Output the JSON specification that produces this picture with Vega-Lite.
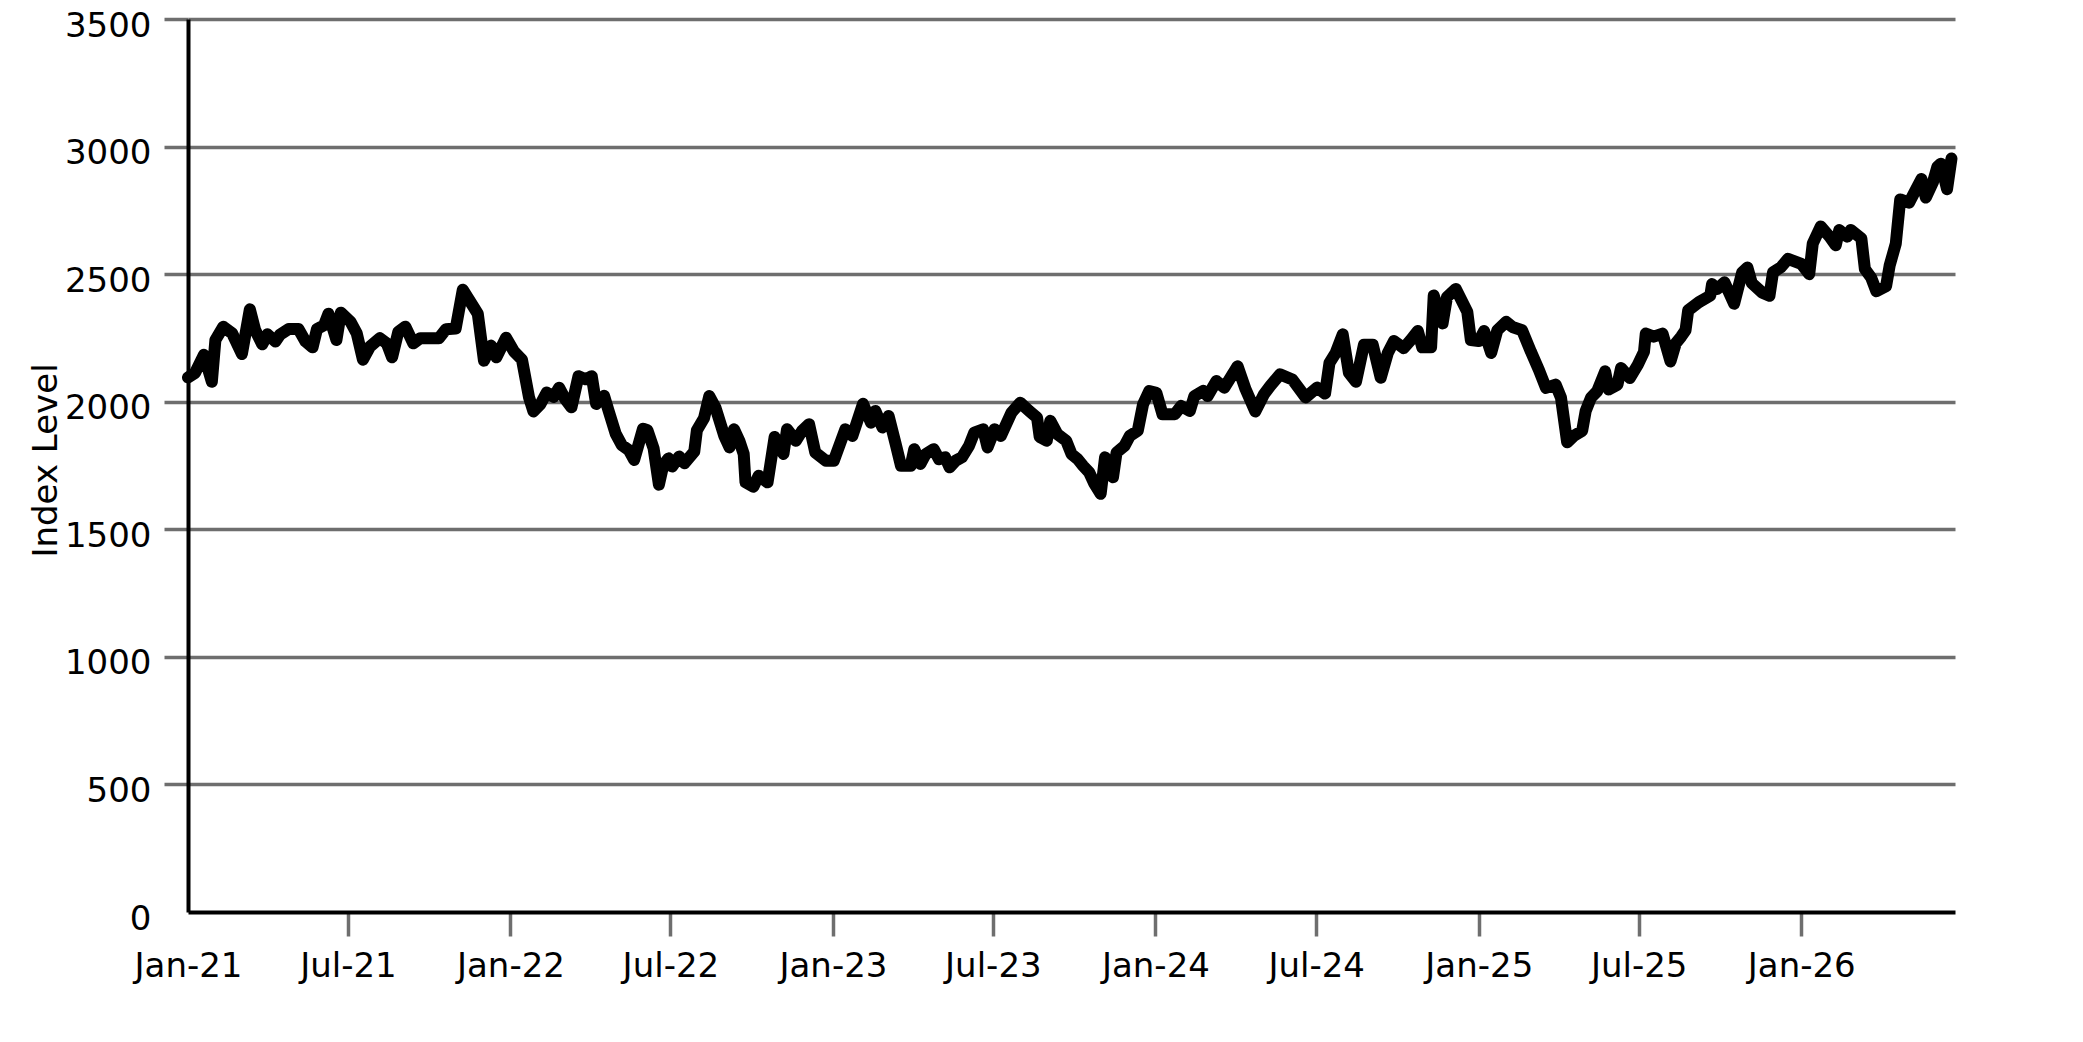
{
  "$schema": "https://vega.github.io/schema/vega-lite/v6.json",
  "width": 1767,
  "height": 893,
  "autosize": {"type": "none"},
  "padding": {"left": 188, "top": 19, "right": 128, "bottom": 130},
  "config": {"view": {"stroke": null}, "font": "DejaVu Sans"},
  "data": {
    "values": [
      {"date": "2021-01-01", "value": 2095}, {"date": "2021-01-09", "value": 2113}, {"date": "2021-01-19", "value": 2184},
      {"date": "2021-01-28", "value": 2078}, {"date": "2021-02-01", "value": 2242}, {"date": "2021-02-10", "value": 2294},
      {"date": "2021-02-20", "value": 2268}, {"date": "2021-03-03", "value": 2187}, {"date": "2021-03-12", "value": 2362},
      {"date": "2021-03-18", "value": 2281}, {"date": "2021-03-26", "value": 2225}, {"date": "2021-04-01", "value": 2264},
      {"date": "2021-04-10", "value": 2236}, {"date": "2021-04-15", "value": 2262}, {"date": "2021-04-25", "value": 2285},
      {"date": "2021-05-06", "value": 2285}, {"date": "2021-05-14", "value": 2236}, {"date": "2021-05-22", "value": 2213},
      {"date": "2021-05-27", "value": 2285}, {"date": "2021-06-04", "value": 2300}, {"date": "2021-06-09", "value": 2345},
      {"date": "2021-06-18", "value": 2242}, {"date": "2021-06-23", "value": 2349}, {"date": "2021-07-04", "value": 2313},
      {"date": "2021-07-11", "value": 2268}, {"date": "2021-07-18", "value": 2165}, {"date": "2021-07-26", "value": 2216},
      {"date": "2021-08-06", "value": 2249}, {"date": "2021-08-14", "value": 2229}, {"date": "2021-08-20", "value": 2174},
      {"date": "2021-08-27", "value": 2274}, {"date": "2021-09-04", "value": 2294}, {"date": "2021-09-13", "value": 2229},
      {"date": "2021-09-21", "value": 2249}, {"date": "2021-10-12", "value": 2249}, {"date": "2021-10-20", "value": 2284},
      {"date": "2021-10-31", "value": 2287}, {"date": "2021-11-08", "value": 2439}, {"date": "2021-11-19", "value": 2378},
      {"date": "2021-11-25", "value": 2345}, {"date": "2021-12-02", "value": 2161}, {"date": "2021-12-10", "value": 2220},
      {"date": "2021-12-16", "value": 2174}, {"date": "2021-12-27", "value": 2251}, {"date": "2022-01-05", "value": 2197},
      {"date": "2022-01-14", "value": 2165}, {"date": "2022-01-22", "value": 2017}, {"date": "2022-01-27", "value": 1962},
      {"date": "2022-02-04", "value": 1991}, {"date": "2022-02-11", "value": 2036}, {"date": "2022-02-19", "value": 2019},
      {"date": "2022-02-25", "value": 2055}, {"date": "2022-03-04", "value": 2010}, {"date": "2022-03-11", "value": 1978},
      {"date": "2022-03-19", "value": 2100}, {"date": "2022-03-27", "value": 2088}, {"date": "2022-04-03", "value": 2100},
      {"date": "2022-04-08", "value": 1991}, {"date": "2022-04-17", "value": 2023}, {"date": "2022-04-22", "value": 1965},
      {"date": "2022-04-30", "value": 1875}, {"date": "2022-05-07", "value": 1830}, {"date": "2022-05-15", "value": 1810},
      {"date": "2022-05-21", "value": 1772}, {"date": "2022-05-31", "value": 1894}, {"date": "2022-06-05", "value": 1888},
      {"date": "2022-06-12", "value": 1817}, {"date": "2022-06-18", "value": 1675}, {"date": "2022-06-23", "value": 1752},
      {"date": "2022-06-29", "value": 1778}, {"date": "2022-07-03", "value": 1746}, {"date": "2022-07-11", "value": 1785},
      {"date": "2022-07-17", "value": 1759}, {"date": "2022-07-28", "value": 1804}, {"date": "2022-07-31", "value": 1888},
      {"date": "2022-08-08", "value": 1935}, {"date": "2022-08-14", "value": 2022}, {"date": "2022-08-21", "value": 1977},
      {"date": "2022-08-31", "value": 1866}, {"date": "2022-09-06", "value": 1821}, {"date": "2022-09-11", "value": 1892},
      {"date": "2022-09-17", "value": 1847}, {"date": "2022-09-22", "value": 1795}, {"date": "2022-09-24", "value": 1684},
      {"date": "2022-10-03", "value": 1667}, {"date": "2022-10-09", "value": 1710}, {"date": "2022-10-19", "value": 1684},
      {"date": "2022-10-27", "value": 1862}, {"date": "2022-11-06", "value": 1795}, {"date": "2022-11-10", "value": 1892},
      {"date": "2022-11-20", "value": 1847}, {"date": "2022-11-27", "value": 1886}, {"date": "2022-12-05", "value": 1912},
      {"date": "2022-12-12", "value": 1801}, {"date": "2022-12-24", "value": 1769}, {"date": "2023-01-02", "value": 1769},
      {"date": "2023-01-15", "value": 1892}, {"date": "2023-01-23", "value": 1866}, {"date": "2023-01-28", "value": 1918},
      {"date": "2023-02-04", "value": 1992}, {"date": "2023-02-13", "value": 1918}, {"date": "2023-02-18", "value": 1964},
      {"date": "2023-02-26", "value": 1899}, {"date": "2023-03-05", "value": 1944}, {"date": "2023-03-13", "value": 1834},
      {"date": "2023-03-19", "value": 1749}, {"date": "2023-03-30", "value": 1749}, {"date": "2023-04-03", "value": 1814},
      {"date": "2023-04-10", "value": 1756}, {"date": "2023-04-16", "value": 1795}, {"date": "2023-04-25", "value": 1814},
      {"date": "2023-05-01", "value": 1775}, {"date": "2023-05-08", "value": 1782}, {"date": "2023-05-13", "value": 1743},
      {"date": "2023-05-20", "value": 1769}, {"date": "2023-05-27", "value": 1782}, {"date": "2023-06-04", "value": 1827},
      {"date": "2023-06-10", "value": 1879}, {"date": "2023-06-20", "value": 1892}, {"date": "2023-06-25", "value": 1821},
      {"date": "2023-07-03", "value": 1892}, {"date": "2023-07-10", "value": 1866}, {"date": "2023-07-22", "value": 1957},
      {"date": "2023-08-01", "value": 1996}, {"date": "2023-08-11", "value": 1964}, {"date": "2023-08-20", "value": 1938},
      {"date": "2023-08-23", "value": 1862}, {"date": "2023-08-31", "value": 1847}, {"date": "2023-09-04", "value": 1925},
      {"date": "2023-09-12", "value": 1873}, {"date": "2023-09-22", "value": 1847}, {"date": "2023-09-28", "value": 1795},
      {"date": "2023-10-05", "value": 1775}, {"date": "2023-10-11", "value": 1749}, {"date": "2023-10-18", "value": 1723},
      {"date": "2023-10-24", "value": 1678}, {"date": "2023-10-31", "value": 1639}, {"date": "2023-11-05", "value": 1782},
      {"date": "2023-11-14", "value": 1704}, {"date": "2023-11-18", "value": 1801}, {"date": "2023-11-27", "value": 1827},
      {"date": "2023-12-03", "value": 1866}, {"date": "2023-12-12", "value": 1886}, {"date": "2023-12-18", "value": 1990},
      {"date": "2023-12-25", "value": 2042}, {"date": "2024-01-02", "value": 2035}, {"date": "2024-01-09", "value": 1951},
      {"date": "2024-01-23", "value": 1951}, {"date": "2024-01-30", "value": 1983}, {"date": "2024-02-09", "value": 1964},
      {"date": "2024-02-14", "value": 2022}, {"date": "2024-02-24", "value": 2042}, {"date": "2024-02-29", "value": 2022},
      {"date": "2024-03-10", "value": 2081}, {"date": "2024-03-19", "value": 2055}, {"date": "2024-04-03", "value": 2139},
      {"date": "2024-04-12", "value": 2049}, {"date": "2024-04-23", "value": 1962}, {"date": "2024-05-03", "value": 2030},
      {"date": "2024-05-10", "value": 2062}, {"date": "2024-05-21", "value": 2107}, {"date": "2024-06-04", "value": 2087},
      {"date": "2024-06-19", "value": 2017}, {"date": "2024-07-02", "value": 2055}, {"date": "2024-07-11", "value": 2032},
      {"date": "2024-07-16", "value": 2152}, {"date": "2024-07-23", "value": 2191}, {"date": "2024-07-31", "value": 2264},
      {"date": "2024-08-07", "value": 2113}, {"date": "2024-08-15", "value": 2078}, {"date": "2024-08-24", "value": 2223},
      {"date": "2024-09-03", "value": 2223}, {"date": "2024-09-12", "value": 2094}, {"date": "2024-09-20", "value": 2191},
      {"date": "2024-09-27", "value": 2238}, {"date": "2024-10-08", "value": 2210}, {"date": "2024-10-16", "value": 2242},
      {"date": "2024-10-24", "value": 2277}, {"date": "2024-10-29", "value": 2213}, {"date": "2024-11-08", "value": 2213},
      {"date": "2024-11-11", "value": 2416}, {"date": "2024-11-21", "value": 2307}, {"date": "2024-11-26", "value": 2410},
      {"date": "2024-12-06", "value": 2442}, {"date": "2024-12-19", "value": 2352}, {"date": "2024-12-23", "value": 2242},
      {"date": "2025-01-01", "value": 2238}, {"date": "2025-01-07", "value": 2277}, {"date": "2025-01-15", "value": 2191},
      {"date": "2025-01-22", "value": 2280}, {"date": "2025-02-01", "value": 2313}, {"date": "2025-02-08", "value": 2293},
      {"date": "2025-02-19", "value": 2280}, {"date": "2025-03-01", "value": 2196}, {"date": "2025-03-10", "value": 2125},
      {"date": "2025-03-18", "value": 2054}, {"date": "2025-03-29", "value": 2067}, {"date": "2025-04-04", "value": 2016},
      {"date": "2025-04-11", "value": 1841}, {"date": "2025-04-19", "value": 1867}, {"date": "2025-04-28", "value": 1886},
      {"date": "2025-05-02", "value": 1964}, {"date": "2025-05-08", "value": 2016}, {"date": "2025-05-15", "value": 2041},
      {"date": "2025-05-24", "value": 2119}, {"date": "2025-05-28", "value": 2048}, {"date": "2025-06-07", "value": 2067},
      {"date": "2025-06-11", "value": 2132}, {"date": "2025-06-21", "value": 2093}, {"date": "2025-06-30", "value": 2145},
      {"date": "2025-07-07", "value": 2196}, {"date": "2025-07-09", "value": 2267}, {"date": "2025-07-18", "value": 2255},
      {"date": "2025-07-28", "value": 2267}, {"date": "2025-08-06", "value": 2158}, {"date": "2025-08-12", "value": 2229},
      {"date": "2025-08-18", "value": 2255}, {"date": "2025-08-23", "value": 2280}, {"date": "2025-08-26", "value": 2358},
      {"date": "2025-09-07", "value": 2390}, {"date": "2025-09-20", "value": 2416}, {"date": "2025-09-22", "value": 2461},
      {"date": "2025-09-28", "value": 2442}, {"date": "2025-10-06", "value": 2468}, {"date": "2025-10-17", "value": 2384},
      {"date": "2025-10-26", "value": 2506}, {"date": "2025-11-01", "value": 2526}, {"date": "2025-11-06", "value": 2465},
      {"date": "2025-11-18", "value": 2427}, {"date": "2025-11-26", "value": 2415}, {"date": "2025-11-30", "value": 2507},
      {"date": "2025-12-09", "value": 2527}, {"date": "2025-12-17", "value": 2560}, {"date": "2026-01-01", "value": 2540},
      {"date": "2026-01-10", "value": 2500}, {"date": "2026-01-14", "value": 2620}, {"date": "2026-01-23", "value": 2687},
      {"date": "2026-02-02", "value": 2647}, {"date": "2026-02-09", "value": 2613}, {"date": "2026-02-13", "value": 2673},
      {"date": "2026-02-22", "value": 2647}, {"date": "2026-02-26", "value": 2673}, {"date": "2026-03-10", "value": 2640},
      {"date": "2026-03-14", "value": 2520}, {"date": "2026-03-21", "value": 2487}, {"date": "2026-03-27", "value": 2433},
      {"date": "2026-04-07", "value": 2453}, {"date": "2026-04-11", "value": 2533}, {"date": "2026-04-18", "value": 2620},
      {"date": "2026-04-23", "value": 2793}, {"date": "2026-05-03", "value": 2780}, {"date": "2026-05-09", "value": 2820},
      {"date": "2026-05-17", "value": 2873}, {"date": "2026-05-22", "value": 2800}, {"date": "2026-05-30", "value": 2860},
      {"date": "2026-06-04", "value": 2920}, {"date": "2026-06-08", "value": 2933}, {"date": "2026-06-15", "value": 2833},
      {"date": "2026-06-20", "value": 2953}
    ]
  },
  "mark": {"type": "line", "color": "black", "strokeWidth": 12, "strokeJoin": "round", "strokeCap": "round"},
  "encoding": {
    "x": {
      "field": "date",
      "type": "temporal",
      "scale": {"domain": [{"year": 2021, "month": 1, "date": 1}, {"year": 2026, "month": 6, "date": 24}]},
      "axis": {
        "title": null,
        "format": "%b-%y",
        "values": [
          {"year": 2021, "month": 1, "date": 1}, {"year": 2021, "month": 7, "date": 1},
          {"year": 2022, "month": 1, "date": 1}, {"year": 2022, "month": 7, "date": 1},
          {"year": 2023, "month": 1, "date": 1}, {"year": 2023, "month": 7, "date": 1},
          {"year": 2024, "month": 1, "date": 1}, {"year": 2024, "month": 7, "date": 1},
          {"year": 2025, "month": 1, "date": 1}, {"year": 2025, "month": 7, "date": 1},
          {"year": 2026, "month": 1, "date": 1}
        ],
        "grid": false,
        "domainColor": "black",
        "domainWidth": 4,
        "tickColor": "#6e6e6e",
        "tickWidth": 3.5,
        "tickSize": 24,
        "tickOpacity": {"condition": {"test": "datum.value < datetime(2021, 0, 2)", "value": 0}, "value": 1},
        "labelFontSize": 34,
        "labelColor": "black",
        "labelPadding": 13,
        "labelFlush": false,
        "labelOverlap": false
      }
    },
    "y": {
      "field": "value",
      "type": "quantitative",
      "scale": {"domain": [0, 3500], "nice": false},
      "axis": {
        "title": "Index Level",
        "format": "d",
        "values": [0, 500, 1000, 1500, 2000, 2500, 3000, 3500],
        "grid": true,
        "gridColor": "#6e6e6e",
        "gridWidth": 3.5,
        "gridOpacity": {"condition": {"test": "datum.value === 0", "value": 0}, "value": 1},
        "domainColor": "black",
        "domainWidth": 4,
        "tickColor": "#6e6e6e",
        "tickWidth": 3.5,
        "tickSize": 24,
        "tickOpacity": {"condition": {"test": "datum.value === 0", "value": 0}, "value": 1},
        "labelFontSize": 34,
        "labelColor": "black",
        "labelPadding": 13,
        "labelOffset": 7,
        "titleFontSize": 34,
        "titleFontWeight": "normal",
        "titleColor": "black",
        "titleAngle": -90,
        "titleAlign": "center",
        "titleBaseline": "bottom",
        "titleX": -125,
        "titleY": 441
      }
    }
  }
}
